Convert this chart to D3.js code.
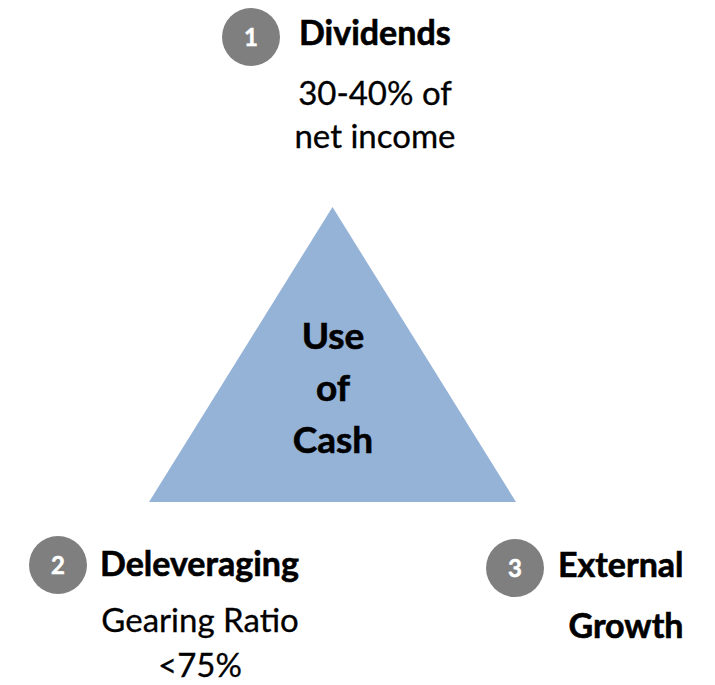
<!DOCTYPE html>
<html>
<head>
<meta charset="utf-8">
<script src="https://cdn.jsdelivr.net/npm/d3@7"></script>
<style>
  body { margin: 0; background: #fff; }
  svg text { font-family: Lato, "Open Sans", sans-serif; }
  svg text.heavy { stroke: currentColor; stroke-width: 0.6px; }
  svg text.note { stroke: #000; stroke-width: 0.3px; }
</style>
</head>
<body>
<div id="chart"></div>
<script>
// Diagram content
const centerLines = ["Use", "of", "Cash"];
const itemNumbers = ["1", "2", "3"];
const itemTitles = [["Dividends"], ["Deleveraging"], ["External", "Growth"]];
const itemNotes = [["30-40% of", "net income"], ["Gearing Ratio", "<75%"], []];

// Layout
const width = 715, height = 685;
const triColor = "#95b3d7";
const badgeColor = "#7f7f7f";
const badgeR = 29;
const fontTitle = 34, fontNote = 33, fontCenter = 37, fontBadge = 24;

// badge centre, title anchor, note centre / line spacing
const layout = [
  { bx: 251, by: 37, tx: 299, ty: 45, tdy: 0, nx: 375, ny: 105, ndy: 43 },
  { bx: 58,  by: 565, tx: 100, ty: 576, tdy: 0, nx: 200, ny: 632, ndy: 45 },
  { bx: 515, by: 568, tx: 558, ty: 577, tdy: 61, nx: 0, ny: 0, ndy: 0 }
];

const svg = d3.select("#chart").append("svg")
  .attr("width", width)
  .attr("height", height);

// Triangle: unit coordinates mapped through scales
const x = d3.scaleLinear().domain([0, 1]).range([149, 516]);
const y = d3.scaleLinear().domain([0, 1]).range([207, 502]);
const triPts = [[0.5, 0], [1, 1], [0, 1]];
svg.append("path")
  .attr("d", d3.line().x(d => x(d[0])).y(d => y(d[1])).curve(d3.curveLinearClosed)(triPts))
  .attr("fill", triColor);

// Centre label
svg.append("g").selectAll("text")
  .data(centerLines)
  .enter()
  .append("text")
  .attr("class", "heavy")
  .attr("x", 333)
  .attr("y", (d, i) => 349 + i * 52)
  .attr("text-anchor", "middle")
  .attr("font-weight", "bold")
  .style("font-size", fontCenter + "px")
  .text(d => d);

// Items
itemNumbers.forEach((num, i) => {
  const L = layout[i];
  const g = svg.append("g");

  g.append("circle")
    .attr("cx", L.bx)
    .attr("cy", L.by)
    .attr("r", badgeR)
    .attr("fill", badgeColor);

  g.append("text")
    .attr("x", L.bx)
    .attr("y", L.by)
    .attr("dy", "0.36em")
    .attr("text-anchor", "middle")
    .attr("font-weight", "bold")
    .attr("fill", "#fff")
    .attr("stroke", "#fff")
    .attr("stroke-width", 0.5)
    .style("font-size", fontBadge + "px")
    .text(num);

  g.selectAll(".title")
    .data(itemTitles[i])
    .enter()
    .append("text")
    .attr("class", "title heavy")
    .attr("x", (d, j) => j === 0 ? L.tx : L.tx + 68)
    .attr("y", (d, j) => L.ty + j * L.tdy)
    .attr("text-anchor", (d, j) => j === 0 ? "start" : "middle")
    .attr("font-weight", "bold")
    .style("font-size", fontTitle + "px")
    .text(d => d);

  g.selectAll(".note")
    .data(itemNotes[i])
    .enter()
    .append("text")
    .attr("class", "note")
    .attr("x", L.nx)
    .attr("y", (d, j) => L.ny + j * L.ndy)
    .attr("text-anchor", "middle")
    .style("font-size", fontNote + "px")
    .text(d => d);
});
</script>
</body>
</html>
